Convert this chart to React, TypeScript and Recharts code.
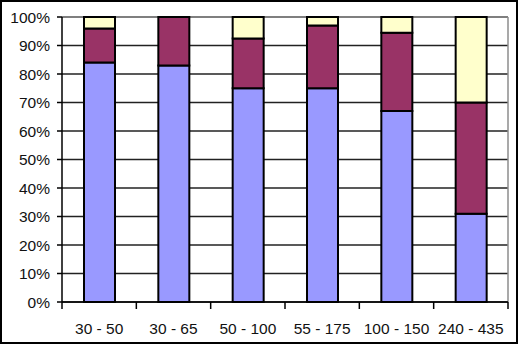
import { BarChart, Bar, XAxis, YAxis, CartesianGrid } from 'recharts';

const categories = ['30 - 50', '30 - 65', '50 - 100', '55 - 175', '100 - 150', '240 - 435'];
const lowShare = [84, 83, 75, 75, 67, 31];
const midShare = [12, 17, 17.5, 22, 27.5, 39];
const highShare = [4, 0, 7.5, 3, 5.5, 30];
const yTicks = [0, 10, 20, 30, 40, 50, 60, 70, 80, 90, 100];

const data = categories.map((name, i) => ({
  name,
  low: lowShare[i],
  mid: midShare[i],
  high: highShare[i],
}));

const font = '"Liberation Sans", Arial, sans-serif';

function CategoryTick(props: any) {
  const { x, y, payload, index, visibleTicksCount, width } = props;
  const half = payload.offset ?? width / categories.length / 2;
  const top = y - 21;
  return (
    <g>
      <line x1={x - half} y1={top} x2={x - half} y2={top + 7} stroke="#000" strokeWidth={1.5} />
      {index === visibleTicksCount - 1 && (
        <line x1={x + half} y1={top} x2={x + half} y2={top + 7} stroke="#000" strokeWidth={1.5} />
      )}
      <text x={x} y={y} dy="0.71em" textAnchor="middle" fill="#111" fontSize={15.5} fontFamily={font}>
        {payload.value}
      </text>
    </g>
  );
}

export default function App() {
  return (
    <div style={{ position: 'fixed', left: 0, top: 0, width: 518, height: 348, background: '#fff' }}>
      <div
        style={{
          position: 'absolute',
          left: 0,
          top: 0,
          width: 518,
          height: 344,
          border: '2px solid #000',
          boxSizing: 'border-box',
        }}
      />
      <div style={{ position: 'absolute', left: 0, top: 0 }}>
        <BarChart
          width={518}
          height={348}
          data={data}
          margin={{ top: 17, right: 10, left: 0, bottom: 0 }}
        >
          <CartesianGrid vertical={false} stroke="#222" strokeWidth={1.5} />
          <CartesianGrid
            stroke="#8c8c8c"
            strokeWidth={1.5}
            horizontalCoordinatesGenerator={({ offset }: any) => [offset.top]}
            verticalCoordinatesGenerator={({ offset }: any) => [offset.left + offset.width]}
          />
          <XAxis
            dataKey="name"
            height={46}
            interval={0}
            tickSize={0}
            tickMargin={21}
            tickLine={false}
            axisLine={{ stroke: '#000', strokeWidth: 1.5 }}
            tick={<CategoryTick />}
          />
          <YAxis
            width={62}
            domain={[0, 100]}
            ticks={yTicks}
            tickFormatter={(v: number) => `${v}%`}
            tickSize={5}
            tickMargin={7}
            axisLine={{ stroke: '#000', strokeWidth: 1.5 }}
            tickLine={{ stroke: '#000', strokeWidth: 1.5 }}
            tick={{ fill: '#111', fontSize: 15.5, fontFamily: font }}
          />
          <Bar dataKey="low" stackId="a" barSize={31} fill="#9999FF" stroke="#000" strokeWidth={2} isAnimationActive={false} />
          <Bar dataKey="mid" stackId="a" barSize={31} fill="#993366" stroke="#000" strokeWidth={2} isAnimationActive={false} />
          <Bar dataKey="high" stackId="a" barSize={31} fill="#FFFFCC" stroke="#000" strokeWidth={2} isAnimationActive={false} />
        </BarChart>
      </div>
    </div>
  );
}
